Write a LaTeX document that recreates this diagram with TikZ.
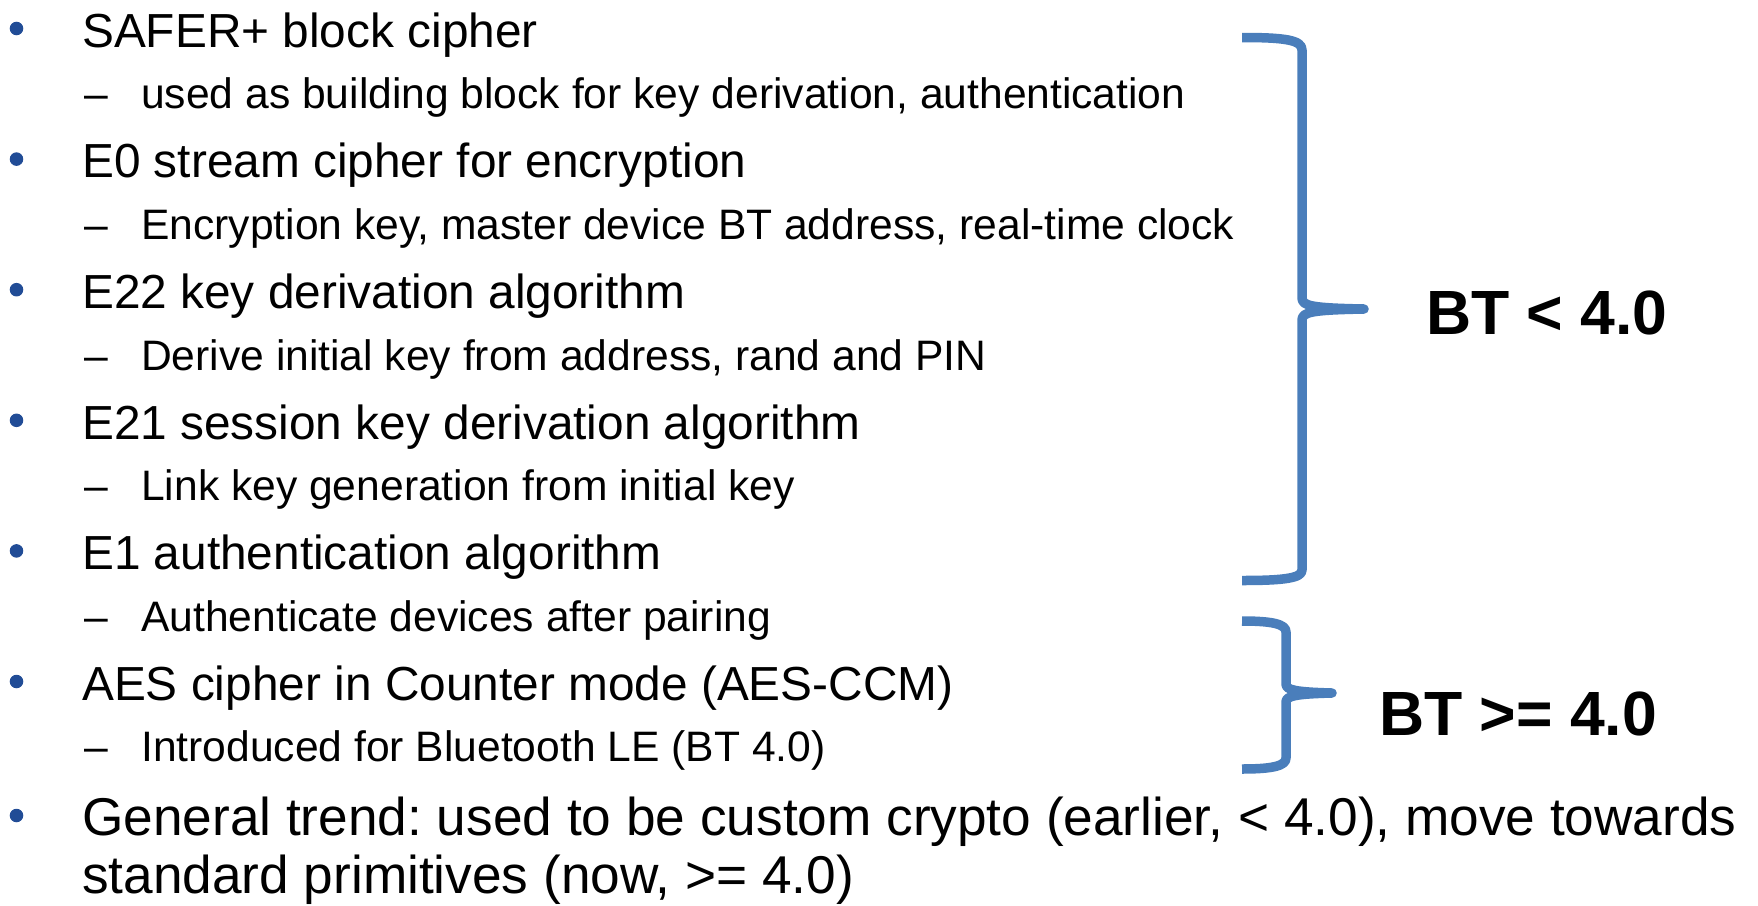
\documentclass[tikz,border=0pt]{standalone}
\usepackage{fontspec}
\setmainfont{Liberation Sans}
\definecolor{bulletblue}{RGB}{33,76,150}
\definecolor{braceblue}{RGB}{74,126,187}
\begin{document}
\frenchspacing
\begin{tikzpicture}[x=1pt,y=-1pt,
  main/.style={anchor=base west, inner sep=0pt, font=\fontsize{47.8}{57}\selectfont},
  trend/.style={anchor=base west, inner sep=0pt, font=\fontsize{53.2}{64}\selectfont},
  sub/.style={anchor=base west, inner sep=0pt, font=\fontsize{42.6}{51}\selectfont},
  bulletdot/.style={circle, fill=bulletblue, draw=bulletblue, line width=1pt, inner sep=0pt, minimum size=12.5pt},
  bracestroke/.style={draw=braceblue, line width=9.5pt, line cap=butt, line join=round},
  verlabel/.style={anchor=base west, inner sep=0pt, font=\fontsize{62.5}{75}\selectfont\bfseries}]
\useasboundingbox (0,0) rectangle (1758,905);

% first-level items
\node[bulletdot] (b1) at (16.5,28.5) {};
\node[main] (l1) at (82,47.3) {SAFER+ block cipher};
\node[bulletdot] (b2) at (16.5,159.1) {};
\node[main] (l2) at (82,177.9) {E0 stream cipher for encryption};
\node[bulletdot] (b3) at (16.5,289.7) {};
\node[main] (l3) at (82,308.5) {E22 key derivation algorithm};
\node[bulletdot] (b4) at (16.5,420.3) {};
\node[main] (l4) at (82,439.1) {E21 session key derivation algorithm};
\node[bulletdot] (b5) at (16.5,550.9) {};
\node[main] (l5) at (82,569.7) {E1 authentication algorithm};
\node[bulletdot] (b6) at (16.5,681.5) {};
\node[main] (l6) at (82,700.3) {AES cipher in Counter mode (AES-CCM)};
\node[bulletdot] (b7) at (16.5,815.5) {};
\node[trend] (l7) at (82,835) {General trend: used to be custom crypto (earlier, < 4.0), move towards};
\node[trend] (l7b) at (82,893.5) {standard primitives (now, >= 4.0)};

% second-level items
\node[sub] (d1) at (84,108.8) {–};
\node[sub] (s1) at (141,108.8) {used as building block for key derivation, authentication};
\node[sub] (d2) at (84,239.4) {–};
\node[sub] (s2) at (141,239.4) {Encryption key, master device BT address, real-time clock};
\node[sub] (d3) at (84,370) {–};
\node[sub] (s3) at (141,370) {Derive initial key from address, rand and PIN};
\node[sub] (d4) at (84,500.6) {–};
\node[sub] (s4) at (141,500.6) {Link key generation from initial key};
\node[sub] (d5) at (84,631.2) {–};
\node[sub] (s5) at (141,631.2) {Authenticate devices after pairing};
\node[sub] (d6) at (84,761.8) {–};
\node[sub] (s6) at (141,761.8) {Introduced for Bluetooth LE (BT 4.0)};

% braces grouping the items by Bluetooth version
\path[bracestroke] (1242,37.5) .. controls (1285,37.5) and (1302,40) .. (1302,50)
  -- (1302,298) .. controls (1302,306) and (1312,308) .. (1364,309)
  .. controls (1312,310) and (1302,312) .. (1302,320)
  -- (1302,570) .. controls (1302,578) and (1285,580.5) .. (1242,580.5);
\path[bracestroke] (1242,621) .. controls (1272,621) and (1286,624) .. (1286,632)
  -- (1286,684) .. controls (1286,690) and (1295,692) .. (1332,693)
  .. controls (1295,694) and (1286,696) .. (1286,702)
  -- (1286,758) .. controls (1286,766) and (1272,769) .. (1242,769);

\node[verlabel] (v1) at (1426,334) {BT < 4.0};
\node[verlabel] (v2) at (1379,735) {BT >= 4.0};
\end{tikzpicture}
\end{document}
